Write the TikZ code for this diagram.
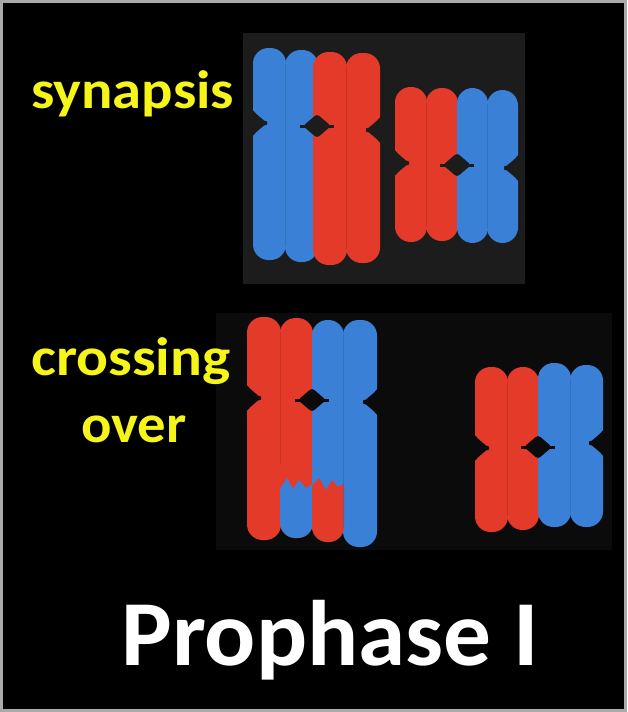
\documentclass[tikz,border=0pt]{standalone}
\usepackage{fontspec}
\setmainfont{Carlito}
\definecolor{chred}{RGB}{228,58,42}
\definecolor{chblue}{RGB}{58,128,214}
\definecolor{lblyellow}{RGB}{245,245,25}
\definecolor{paneltop}{RGB}{28,28,28}
\definecolor{panelbot}{RGB}{11,11,11}
\definecolor{framegray}{RGB}{170,170,170}

% one chromatid: x-left, x-right, y-top, y-bottom, colour
\newcommand\chromatid[5]{%
  \fill[#5, rounded corners=15.5pt] (#1,#3) rectangle (#2,#4);}
% faint seam between two sister chromatids: x, y-top, y-bottom, colour
\newcommand\cseam[4]{%
  \draw[#4!80!black, line width=0.8pt, opacity=0.6] (#1,{#2+14}) -- (#1,{#3-14});}
% notch on an outer edge at a centromere: x, y, direction (+1 left edge, -1 right edge), colour
\newcommand\cnotch[4]{%
  \fill[#4] ({#1-#3*3},{#2-17}) .. controls ({#1},{#2-11}) and ({#1+#3*7},{#2-6}) ..
    ({#1+#3*11},{#2-2.5}) -- ({#1+#3*14},{#2-1.5}) -- ({#1+#3*14},{#2+1.5}) -- ({#1+#3*11},{#2+2.5})
    .. controls ({#1+#3*7},{#2+6}) and ({#1},{#2+11}) .. ({#1-#3*3},{#2+17}) -- cycle;}
% dark blob between the two homologues at the centromere: x, y, colour
\newcommand\cblob[3]{%
  \fill[#3, rounded corners=3pt] ({#1-14},{#2}) -- ({#1},{#2-12}) -- ({#1+14},{#2}) -- ({#1},{#2+12}) -- cycle;
  \fill[#3] ({#1-17},{#2-1.5}) rectangle ({#1+17},{#2+1.5});}

\begin{document}
\begin{tikzpicture}[x=1pt,y=-1pt,
  lbl/.style={text=lblyellow, font=\bfseries\fontsize{54}{60}\selectfont, inner sep=0pt},
  titlelbl/.style={text=white, font=\bfseries\fontsize{93}{100}\selectfont, inner sep=0pt}]
\useasboundingbox (0,0) rectangle (627,712);
\fill[black] (0,0) rectangle (627,712);
\draw[framegray, line width=3pt] (1.5,1.5) rectangle (625.5,710.5);

% photo panels
\fill[paneltop] (243,33) rectangle (525,284);
\fill[panelbot] (216,313) rectangle (612,550);

% ---- synapsis: first bivalent (blue + red)
\chromatid{253}{286}{48}{260}{chblue}
\chromatid{285}{318}{50}{262}{chblue}
\chromatid{313}{347}{52}{265}{chred}
\chromatid{346}{380}{53}{263}{chred}
\cseam{285.5}{50}{260}{chblue}
\cseam{346.5}{53}{263}{chred}
\cnotch{253}{123}{1}{paneltop}
\cblob{317}{126}{paneltop}
\cnotch{380}{130}{-1}{paneltop}

% ---- synapsis: second bivalent (red + blue)
\chromatid{395}{427}{87}{242}{chred}
\chromatid{426}{458}{88}{241}{chred}
\chromatid{457}{488}{88}{243}{chblue}
\chromatid{487}{518}{90}{243}{chblue}
\cseam{426.5}{88}{241}{chred}
\cseam{487.5}{90}{243}{chblue}
\cnotch{395}{163}{1}{paneltop}
\cblob{457}{165}{paneltop}
\cnotch{518}{168}{-1}{paneltop}

% ---- crossing over: first bivalent with exchanged tips
\chromatid{247}{281}{317}{540}{chred}
\chromatid{280}{313}{318}{538}{chred}
\chromatid{312}{344}{320}{542}{chblue}
\chromatid{343}{377}{320}{547}{chblue}
\begin{scope}
  \clip[rounded corners=15.5pt] (280,318) rectangle (313,538);
  \fill[chblue] (279,490) -- (287,478) -- (293,489) -- (299,480) -- (306,488) -- (314,483)
    -- (314,560) -- (279,560) -- cycle;
\end{scope}
\begin{scope}
  \clip[rounded corners=15.5pt] (312,320) rectangle (344,542);
  \fill[chred] (311,487) -- (319,478) -- (326,490) -- (332,480) -- (338,487) -- (345,483)
    -- (345,560) -- (311,560) -- cycle;
\end{scope}
\cseam{280.5}{318}{478}{chred}
\cseam{343.5}{320}{542}{chblue}
\cnotch{247}{398}{1}{panelbot}
\cblob{312}{400}{panelbot}
\cnotch{377}{402}{-1}{panelbot}

% ---- crossing over: second bivalent
\chromatid{475}{508}{367}{532}{chred}
\chromatid{507}{539}{367}{530}{chred}
\chromatid{538}{571}{363}{527}{chblue}
\chromatid{570}{603}{365}{527}{chblue}
\cseam{507.5}{367}{530}{chred}
\cseam{570.5}{365}{527}{chblue}
\cnotch{475}{448}{1}{panelbot}
\cblob{538}{447}{panelbot}
\cnotch{603}{443}{-1}{panelbot}

% labels
\node[lbl, anchor=base west] (synapsis) at (31,108) {\scalebox{1.085}[1]{synapsis}};
\node[lbl, anchor=base west] (crossing) at (31,375) {\scalebox{1.1}[1]{crossing}};
\node[lbl, anchor=base] (over) at (134,442) {\scalebox{1.05}[1]{over}};
\node[titlelbl, anchor=base] (title) at (330,665) {\scalebox{1.025}[1]{Prophase I}};
\end{tikzpicture}
\end{document}
